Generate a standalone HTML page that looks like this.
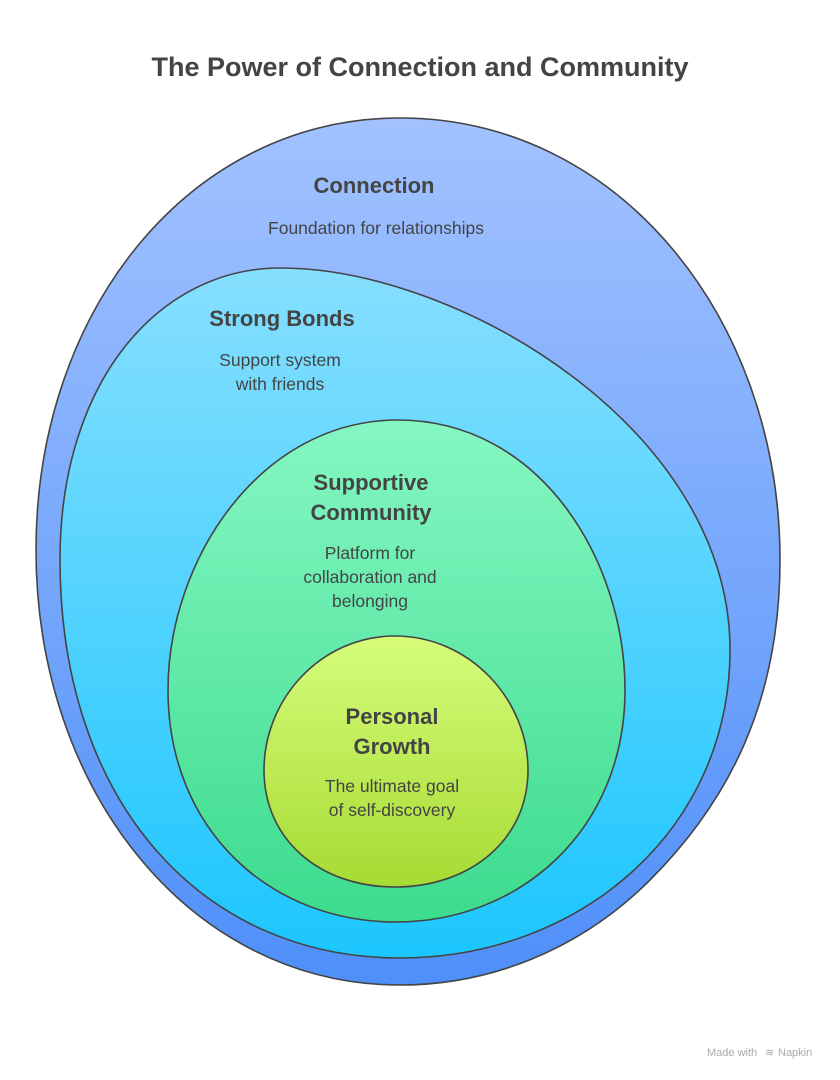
<!DOCTYPE html>
<html><head><meta charset="utf-8"><style>
html,body{margin:0;padding:0;background:#fff}
svg{display:block}
text{font-family:"Liberation Sans",sans-serif;fill:#444}
.h{font-weight:bold;font-size:22px}
.d{font-size:17.5px}
</style></head><body>
<svg width="840" height="1080" viewBox="0 0 840 1080" xmlns="http://www.w3.org/2000/svg">
<defs>
<linearGradient id="g1" x1="0" y1="0" x2="0" y2="1"><stop offset="0" stop-color="#a2c2ff"/><stop offset="1" stop-color="#4f8ff9"/></linearGradient>
<linearGradient id="g2" x1="0" y1="0" x2="0" y2="1"><stop offset="0" stop-color="#86dffe"/><stop offset="1" stop-color="#1cc6fe"/></linearGradient>
<linearGradient id="g3" x1="0" y1="0" x2="0" y2="1"><stop offset="0" stop-color="#85f7c2"/><stop offset="1" stop-color="#3cdb8e"/></linearGradient>
<linearGradient id="g4" x1="0" y1="0" x2="0" y2="1"><stop offset="0" stop-color="#d6fc7a"/><stop offset="1" stop-color="#a6db33"/></linearGradient>
</defs>
<text x="420" y="76" text-anchor="middle" style="font-weight:bold;font-size:27px">The Power of Connection and Community</text>
<path d="M400,118 C620,118 780,320 780,560 C780,700 730,800 650,880 C580,950 490,985 400,985 C190,985 36,790 36,550 C36,310 190,118 400,118 Z" fill="url(#g1)" stroke="#444" stroke-width="1.6"/>
<path d="M280,268 C460,268 730,430 730,650 C730,830 580,958 400,958 C200,958 60,800 60,560 C60,380 160,268 280,268 Z" fill="url(#g2)" stroke="#444" stroke-width="1.6"/>
<path d="M398,420 C540,420 625,560 625,690 C625,830 520,922 396,922 C270,922 168,830 168,690 C168,560 260,420 398,420 Z" fill="url(#g3)" stroke="#444" stroke-width="1.6"/>
<path d="M395,636 C470,636 528,700 528,770 C528,840 470,887 395,887 C320,887 264,840 264,770 C264,700 320,636 395,636 Z" fill="url(#g4)" stroke="#444" stroke-width="1.6"/>
<text class="h" x="374" y="193" text-anchor="middle">Connection</text>
<text class="d" x="376" y="234" text-anchor="middle">Foundation for relationships</text>
<text class="h" x="282" y="326" text-anchor="middle">Strong Bonds</text>
<text class="d" x="280" y="366" text-anchor="middle">Support system</text>
<text class="d" x="280" y="390" text-anchor="middle">with friends</text>
<text class="h" x="371" y="490" text-anchor="middle">Supportive</text>
<text class="h" x="371" y="520" text-anchor="middle">Community</text>
<text class="d" x="370" y="559" text-anchor="middle">Platform for</text>
<text class="d" x="370" y="583" text-anchor="middle">collaboration and</text>
<text class="d" x="370" y="607" text-anchor="middle">belonging</text>
<text class="h" x="392" y="724" text-anchor="middle">Personal</text>
<text class="h" x="392" y="754" text-anchor="middle">Growth</text>
<text class="d" x="392" y="792" text-anchor="middle">The ultimate goal</text>
<text class="d" x="392" y="816" text-anchor="middle">of self-discovery</text>
<text x="707" y="1056" style="font-size:11px;fill:#aaa">Made with</text>
<text x="765" y="1056" style="font-size:11px;fill:#aaa">≋</text>
<text x="778" y="1056" style="font-size:11px;fill:#aaa">Napkin</text>
</svg>
</body></html>
